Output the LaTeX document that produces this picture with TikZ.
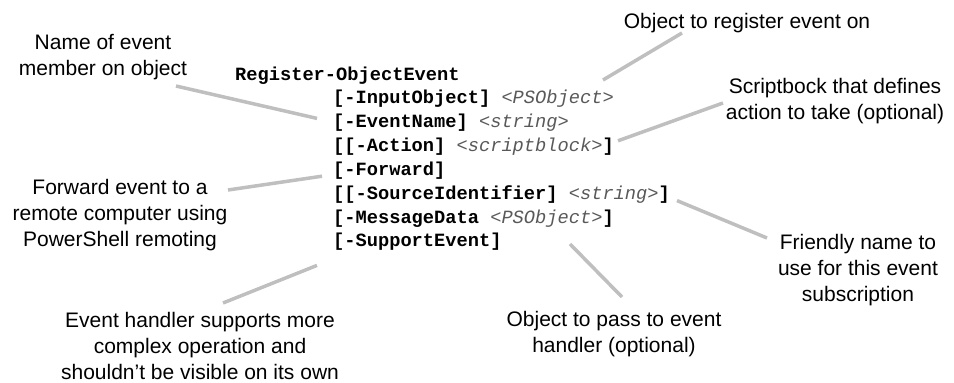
\documentclass[tikz,border=0pt]{standalone}
\usepackage{fontspec}
\setmainfont{Liberation Sans}
\setmonofont{Liberation Mono}
\usetikzlibrary{positioning}
\definecolor{leadgray}{HTML}{BFBFBF}
\definecolor{phgray}{HTML}{595959}
\newcommand{\phold}[1]{{\mdseries\itshape\color{phgray}<#1>}}

\begin{document}
\begin{tikzpicture}[x=1pt,y=-1pt,every node/.style={inner sep=0pt}]
\tikzset{note/.style={font=\fontsize{21}{26}\selectfont,align=center},
  code/.style={font=\fontsize{18.7}{23.5}\selectfont\ttfamily\bfseries,text height=14pt,text depth=9.5pt},
  lead/.style={draw=leadgray,line width=3.5pt}}
\useasboundingbox (0,0) rectangle (954,383);
% syntax block
\node[code,anchor=base west] (cmd) at (235,80) {Register-ObjectEvent};
\node[code,anchor=base west] (p1) at (333,103.5) {[-InputObject] \phold{PSObject}};
\node[code,below=0pt of p1.south west,anchor=north west] (p2) {[-EventName] \phold{string}};
\node[code,below=0pt of p2.south west,anchor=north west] (p3) {[[-Action] \phold{scriptblock}]};
\node[code,below=0pt of p3.south west,anchor=north west] (p4) {[-Forward]};
\node[code,below=0pt of p4.south west,anchor=north west] (p5) {[[-SourceIdentifier] \phold{string}]};
\node[code,below=0pt of p5.south west,anchor=north west] (p6) {[-MessageData \phold{PSObject}]};
\node[code,below=0pt of p6.south west,anchor=north west] (p7) {[-SupportEvent]};
% callouts
\node[note] (lname) at (103,57) {Name of event\\member on object};
\node[note] (lfwd) at (120,215) {Forward event to a\\remote computer using\\PowerShell remoting};
\node[note] (lsupp) at (200,346) {Event handler supports more\\complex operation and\\shouldn’t be visible on its own};
\node[note] (lobj) at (747,23) {Object to register event on};
\node[note] (lact) at (835,101) {Scriptbock that defines\\action to take (optional)};
\node[note] (lsrc) at (858,270) {Friendly name to\\use for this event\\subscription};
\node[note] (lmsg) at (614,334) {Object to pass to event\\handler (optional)};
% leader lines
\draw[lead] ([shift={(73,29)}]lname.center) -- ([shift={(-16,-9)}]p2.base west);
\draw[lead] ([shift={(108,-25)}]lfwd.center) -- ([shift={(-11,1)}]p4.base west);
\draw[lead] ([shift={(23,-43)}]lsupp.center) -- ([shift={(-16,18.5)}]p7.base west);
\draw[lead] ([shift={(-65,10)}]lobj.center) -- ([shift={(270,-23.5)}]p1.base west);
\draw[lead] ([shift={(-112,2)}]lact.center) -- ([shift={(285,-10.5)}]p3.base west);
\draw[lead] ([shift={(-91,-32)}]lsrc.center) -- ([shift={(344,1.5)}]p5.base west);
\draw[lead] ([shift={(8,-37)}]lmsg.center) -- ([shift={(237,21)}]p6.base west);
\end{tikzpicture}
\end{document}
